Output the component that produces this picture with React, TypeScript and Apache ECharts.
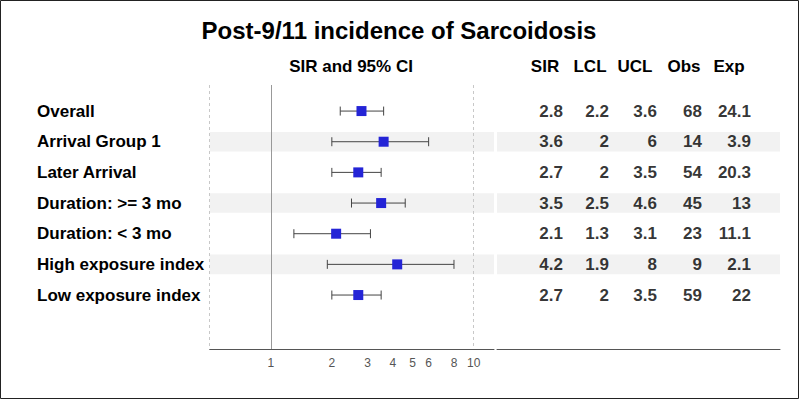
import React, { useEffect, useRef } from "react";
import * as echarts from "echarts";

const title = "Post-9/11 incidence of Sarcoidosis";
const plotHeader = "SIR and 95% CI";
const categories = [
  "Overall",
  "Arrival Group 1",
  "Later Arrival",
  "Duration: >= 3 mo",
  "Duration: < 3 mo",
  "High exposure index",
  "Low exposure index",
];
const sir = [2.8, 3.6, 2.7, 3.5, 2.1, 4.2, 2.7];
const lcl = [2.2, 2, 2, 2.5, 1.3, 1.9, 2];
const ucl = [3.6, 6, 3.5, 4.6, 3.1, 8, 3.5];
const obs = [68, 14, 54, 45, 23, 9, 59];
const expected = [24.1, 3.9, 20.3, 13, 11.1, 2.1, 22];
const xTicks = [1, 2, 3, 4, 5, 6, 8, 10];
const tableHeaders = ["SIR", "LCL", "UCL", "Obs", "Exp"];

// layout
const FONT = '"Liberation Sans", Arial, Helvetica, sans-serif';
const colRight = [66, 112, 160, 205, 254]; // right edges within table grid
const headerCenters = [545, 590, 635, 684, 729];

export default function App() {
  const ref = useRef<HTMLDivElement>(null);
  useEffect(() => {
    if (!ref.current) return;
    const chart = echarts.init(ref.current, undefined, { renderer: "svg" });
    const rows = categories.map((_, i) => i + 1);
    const bandRows = rows.filter((r) => r % 2 === 0);
    const bandData = bandRows.map((r) => [{ yAxis: r - 0.32 }, { yAxis: r + 0.32 }]);
    const tableCols = [sir, lcl, ucl, obs, expected];

    const yBase = {
      type: "value",
      inverse: true,
      min: 0.15,
      max: 8.76,
      axisLine: { show: false },
      axisTick: { show: false },
      splitLine: { show: false },
    };

    const option: any = {
      animation: false,
      backgroundColor: "#ffffff",
      textStyle: { fontFamily: FONT },
      grid: [
        { left: 209.7, top: 85, width: 284.3, height: 264 },
        { left: 497, top: 85, width: 283, height: 264 },
      ],
      xAxis: [
        {
          type: "log",
          gridIndex: 0,
          logBase: 10,
          min: 0.5,
          max: 12.6,
          axisLine: { show: true, lineStyle: { color: "#555", width: 1 } },
          axisTick: { show: false },
          splitLine: { show: false },
          axisLabel: {
            customValues: xTicks,
            formatter: (v: number) => String(Math.round(v)),
            color: "#555555",
            fontSize: 12,
            margin: 8,
            fontFamily: FONT,
          },
        },
        {
          type: "value",
          gridIndex: 1,
          min: 0,
          max: 283,
          axisLine: { show: true, lineStyle: { color: "#555", width: 1 } },
          axisTick: { show: false },
          splitLine: { show: false },
          axisLabel: { show: false },
        },
      ],
      yAxis: [
        {
          ...yBase,
          gridIndex: 0,
          axisLabel: {
            customValues: rows,
            formatter: (v: number) => categories[Math.round(v) - 1],
            align: "left",
            margin: 172.7,
            color: "#000",
            fontSize: 17,
            fontWeight: "bold",
            fontFamily: FONT,
          },
        },
        { ...yBase, gridIndex: 1, axisLabel: { show: false } },
      ],
      graphic: [
        {
          type: "rect",
          shape: { x: 0.5, y: 0.5, width: 798, height: 398 },
          style: { fill: "none", stroke: "#222", lineWidth: 1 },
          silent: true,
        },
        {
          type: "text",
          x: 399,
          y: 30,
          style: {
            text: title,
            textAlign: "center",
            textVerticalAlign: "middle",
            font: `bold 24px ${FONT}`,
            fill: "#000",
          },
        },
        {
          type: "text",
          x: 351,
          y: 66,
          style: {
            text: plotHeader,
            textAlign: "center",
            textVerticalAlign: "middle",
            font: `bold 17px ${FONT}`,
            fill: "#000",
          },
        },
        ...tableHeaders.map((h, i) => ({
          type: "text",
          x: headerCenters[i],
          y: 66,
          style: {
            text: h,
            textAlign: "center",
            textVerticalAlign: "middle",
            font: `bold 17px ${FONT}`,
            fill: "#000",
          },
        })),
      ],
      series: [
        {
          type: "scatter",
          xAxisIndex: 0,
          yAxisIndex: 0,
          data: [],
          z: 0,
          markArea: {
            silent: true,
            itemStyle: { color: "#f2f2f2", opacity: 1 },
            label: { show: false },
            data: bandData,
          },
        },
        {
          type: "scatter",
          xAxisIndex: 1,
          yAxisIndex: 1,
          data: [],
          z: 0,
          markArea: {
            silent: true,
            itemStyle: { color: "#f2f2f2", opacity: 1 },
            label: { show: false },
            data: bandData,
          },
        },
        {
          type: "scatter",
          xAxisIndex: 0,
          yAxisIndex: 0,
          data: [],
          z: 1,
          markLine: {
            silent: true,
            symbol: ["none", "none"],
            label: { show: false },
            data: [
              { xAxis: 0.5, lineStyle: { color: "#c8c8c8", type: [3, 3], width: 1 } },
              { xAxis: 10, lineStyle: { color: "#c8c8c8", type: [3, 3], width: 1 } },
              { xAxis: 1, lineStyle: { color: "#999", type: "solid", width: 1 } },
            ],
          },
        },
        {
          type: "custom",
          xAxisIndex: 0,
          yAxisIndex: 0,
          z: 2,
          encode: { x: [0, 1], y: 2 },
          data: categories.map((_, i) => [lcl[i], ucl[i], i + 1]),
          renderItem: (params: any, api: any) => {
            const row = api.value(2);
            const p1 = api.coord([api.value(0), row]);
            const p2 = api.coord([api.value(1), row]);
            const h = 4.5;
            const style = { stroke: "#444", lineWidth: 1 };
            return {
              type: "group",
              children: [
                { type: "line", shape: { x1: p1[0], y1: p1[1], x2: p2[0], y2: p2[1] }, style },
                { type: "line", shape: { x1: p1[0], y1: p1[1] - h, x2: p1[0], y2: p1[1] + h }, style },
                { type: "line", shape: { x1: p2[0], y1: p2[1] - h, x2: p2[0], y2: p2[1] + h }, style },
              ],
            };
          },
        },
        {
          type: "scatter",
          xAxisIndex: 0,
          yAxisIndex: 0,
          z: 3,
          symbol: "rect",
          symbolSize: 10,
          itemStyle: { color: "#2424d6", opacity: 1 },
          data: sir.map((v, i) => [v, i + 1]),
        },
        ...tableCols.map((col, c) => ({
          type: "scatter",
          xAxisIndex: 1,
          yAxisIndex: 1,
          z: 3,
          symbolSize: 0,
          data: col.map((v, i) => [colRight[c], i + 1, v]),
          label: {
            show: true,
            position: "left",
            distance: 0,
            formatter: (p: any) => String(p.value[2]),
            color: "#000",
            fontSize: 17,
            fontWeight: "bold",
            fontFamily: FONT,
          },
        })),
      ],
    };
    chart.setOption(option);
    return () => chart.dispose();
  }, []);
  return (
    <div
      ref={ref}
      style={{ position: "fixed", left: 0, top: 0, width: 800, height: 400 }}
    />
  );
}
